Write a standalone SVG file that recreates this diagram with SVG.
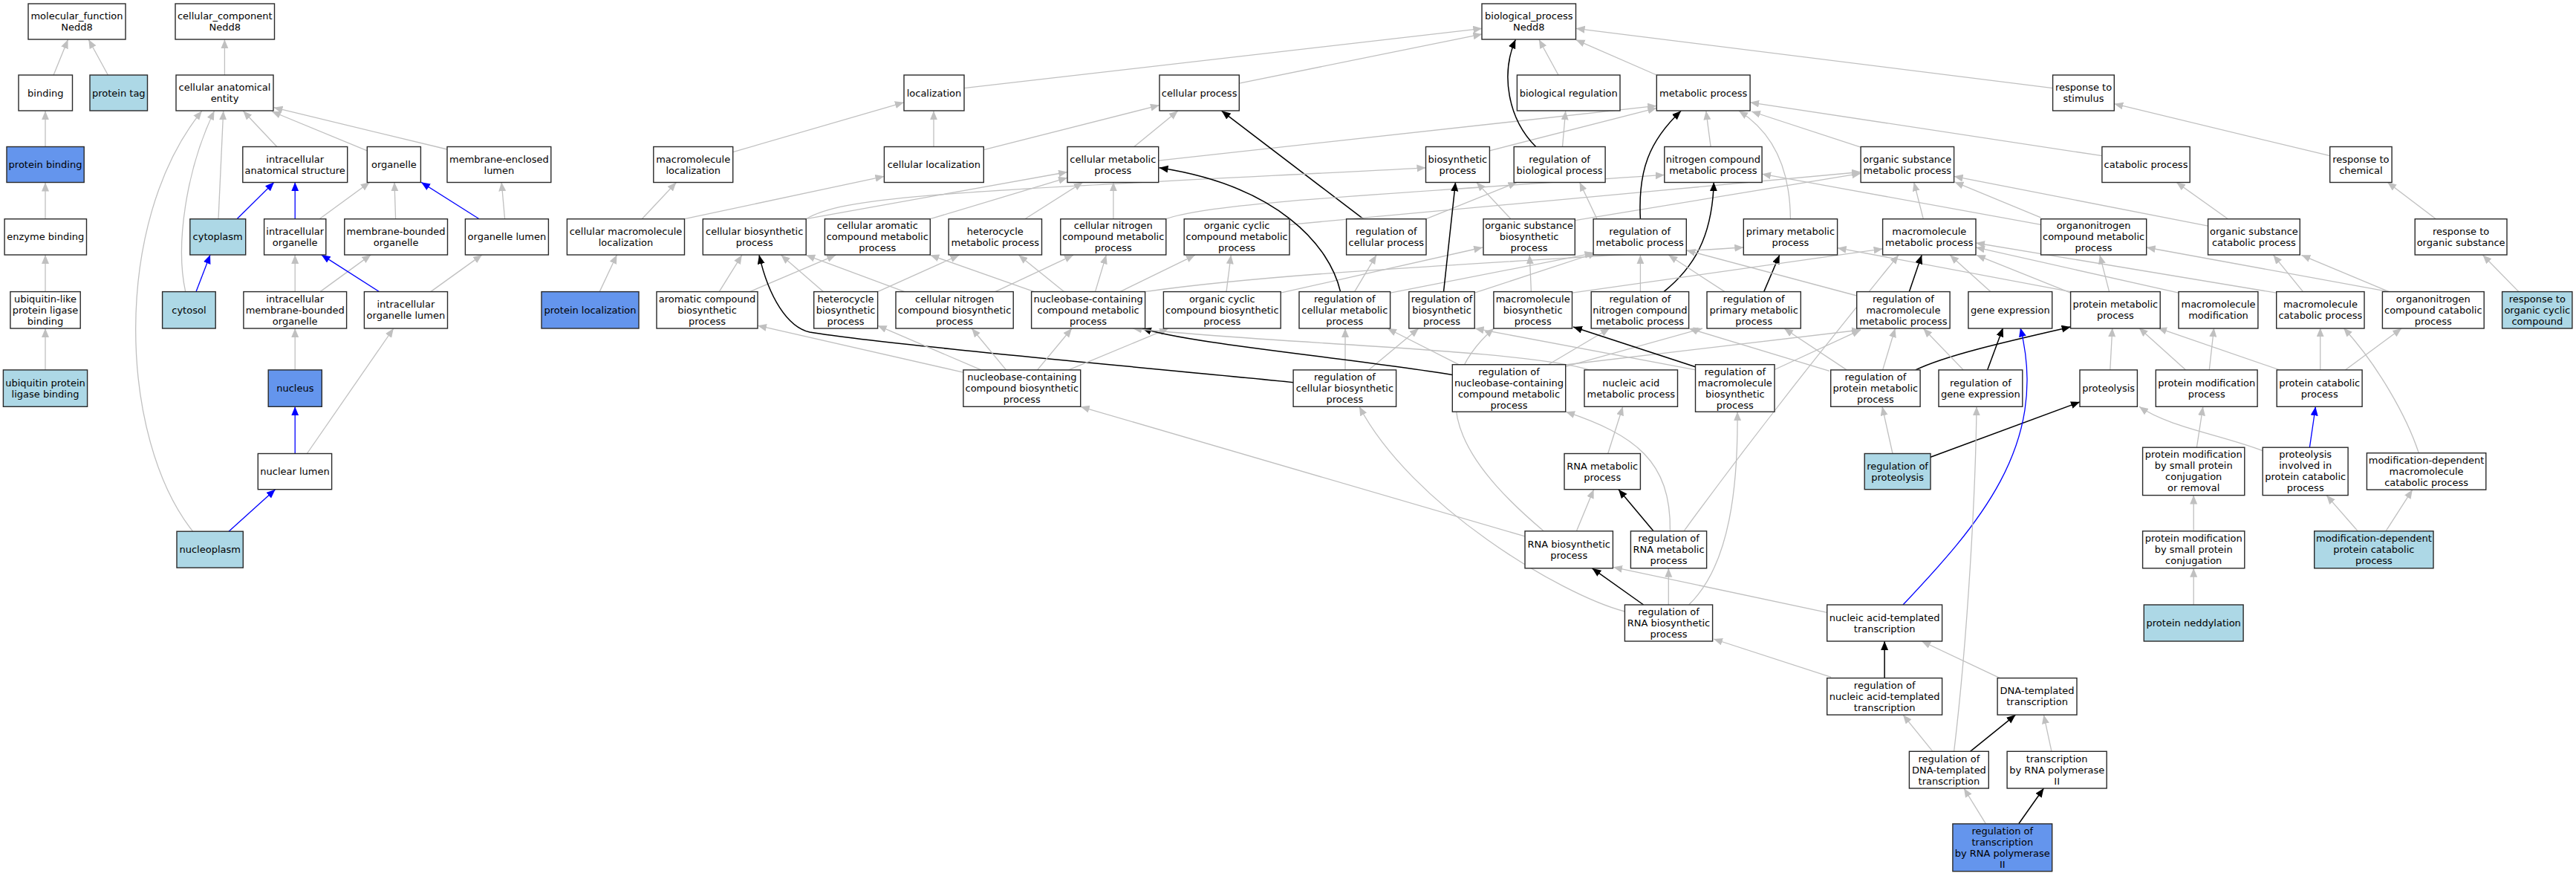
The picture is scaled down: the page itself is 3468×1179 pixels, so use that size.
<svg xmlns="http://www.w3.org/2000/svg" width="3468" height="1179" viewBox="0 0 3468 1179">
<style>
.n rect{fill:#fff;stroke:#2a2a2a;stroke-width:1.4}
.lb rect{fill:#add8e6}
.cb rect{fill:#6495ed}
.n text{font-family:"DejaVu Sans","Liberation Sans",sans-serif;font-size:13px;text-anchor:middle;fill:#000}
.e path{fill:none}
.g{stroke:#c0c0c0;stroke-width:1.3;marker-end:url(#ag)}
.k{stroke:#000;stroke-width:1.5;marker-end:url(#ak)}
.b{stroke:#0000ff;stroke-width:1.3;marker-end:url(#ab)}
</style>
<defs>
<marker id="ag" markerUnits="userSpaceOnUse" markerWidth="13" markerHeight="11" refX="12" refY="5" orient="auto"><path d="M0,0 L12,5 L0,10 z" fill="#c0c0c0"/></marker>
<marker id="ak" markerUnits="userSpaceOnUse" markerWidth="13" markerHeight="11" refX="12" refY="5" orient="auto"><path d="M0,0 L12,5 L0,10 z" fill="#000"/></marker>
<marker id="ab" markerUnits="userSpaceOnUse" markerWidth="13" markerHeight="11" refX="12" refY="5" orient="auto"><path d="M0,0 L12,5 L0,10 z" fill="#0000ff"/></marker>
</defs>
<rect width="3468" height="1179" fill="#fff"/>
<g id="edges" class="e">
<path class="g" d="M72.1,101 L91.5,53.2"/>
<path class="g" d="M145.4,101 L119.3,53.2"/>
<path class="g" d="M302.4,101 L302.4,53.2"/>
<path class="g" d="M61,197.5 L61,149.3"/>
<path class="g" d="M61,294.7 L61,245.5"/>
<path class="g" d="M61,392.6 L61,343"/>
<path class="g" d="M61,497.9 L61,442"/>
<path class="g" d="M372.8,197.5 L327.3,149.3"/>
<path class="g" d="M494.3,202.8 L366,150"/>
<path class="g" d="M602,201 L368.5,144.7"/>
<path class="g" d="M294,294.7 L300.7,149.3"/>
<path class="g" d="M249.7,392.6 C236,330 250,230 288.5,149.3"/>
<path class="g" d="M259.6,715.2 C160,590 150,300 271.8,149.3"/>
<path class="b" d="M319,294.7 L369,245.3"/>
<path class="b" d="M397.2,294.7 L397.2,245.3"/>
<path class="g" d="M430,294.7 L497.7,245.3"/>
<path class="g" d="M532.6,294.7 L531,245.3"/>
<path class="b" d="M645.2,294.7 L567,245.3"/>
<path class="g" d="M679.6,294.7 L675.2,245.3"/>
<path class="b" d="M264,392.6 L283,342.9"/>
<path class="g" d="M397.2,392.6 L397.2,342.9"/>
<path class="g" d="M431,392.6 L499.3,342.9"/>
<path class="b" d="M510.4,392.6 L432.7,342.9"/>
<path class="g" d="M579.8,392.6 L649,342.9"/>
<path class="g" d="M397.2,497.9 L397.2,442"/>
<path class="b" d="M397.2,610.5 L397.2,547.3"/>
<path class="g" d="M413.3,610.5 L529.8,442"/>
<path class="b" d="M308,715.2 L370.6,658.7"/>
<path class="g" d="M807.2,392.6 L830.5,343"/>
<path class="g" d="M864.2,294.7 L910.5,245.5"/>
<path class="g" d="M921.5,294.7 L1190.4,237.3"/>
<path class="g" d="M986.7,204.7 L1216.9,137.8"/>
<path class="g" d="M1257,197.5 L1257,149.3"/>
<path class="g" d="M1297.7,118.6 L1995.3,38.3"/>
<path class="g" d="M1324.3,201.7 L1560.9,141.6"/>
<path class="g" d="M1668.3,112.1 L1995.3,45.9"/>
<path class="g" d="M1526.8,197.5 L1585.8,149.3"/>
<path class="g" d="M1559.7,216.2 L2230.3,142.4"/>
<path class="k" d="M1835.4,294.7 L1644.7,149.3"/>
<path class="g" d="M1920,294.7 L2042.4,245.3"/>
<path class="g" d="M2005.4,202.8 L2230.3,145.4"/>
<path class="g" d="M1085.2,294.7 C1140,262 1300,258 1919.5,225.8"/>
<path class="g" d="M1085.2,294.7 L1437,231.5"/>
<path class="g" d="M1252.3,294.7 L1437,239.2"/>
<path class="g" d="M1379.8,294.7 L1457.7,245.3"/>
<path class="g" d="M1498.9,294.7 L1498.9,245.3"/>
<path class="g" d="M1569.8,294.7 C1620,275 1800,265 2240.8,235.4"/>
<path class="g" d="M1736,302.3 L2505.1,231.5"/>
<path class="g" d="M2120.3,296.6 L2505.1,233.4"/>
<path class="g" d="M2150,294.7 L2126.6,245.3"/>
<path class="k" d="M2067.7,197.5 C2030,160 2020,100 2040.3,53.2"/>
<path class="g" d="M2103.5,197.5 L2107.7,149.3"/>
<path class="g" d="M2098,101 L2071.9,53.2"/>
<path class="g" d="M2230.3,101 L2121.6,53.6"/>
<path class="g" d="M2763.6,118.6 L2121.6,38.3"/>
<path class="g" d="M2303.1,197.5 L2296.8,149.3"/>
<path class="k" d="M2208.4,294.7 C2205,230 2220,190 2263.1,149.3"/>
<path class="g" d="M2410.4,294.7 C2410,230 2390,180 2341,149.3"/>
<path class="g" d="M2505.1,198.2 L2358,150"/>
<path class="g" d="M2829.9,209.7 L2356.1,137.8"/>
<path class="g" d="M2747.6,302.3 L2372.1,234.2"/>
<path class="g" d="M2747.6,292.8 L2631.4,244.9"/>
<path class="g" d="M2972.6,304.2 L2630.6,237.3"/>
<path class="g" d="M2589.3,294.7 L2576.7,245.3"/>
<path class="k" d="M2240,392.6 C2280,360 2305,320 2307.3,245.3"/>
<path class="g" d="M2208.4,392.6 L2208.4,343.3"/>
<path class="g" d="M2322,392.6 L2246.3,343.3"/>
<path class="k" d="M2374.7,392.6 L2395.7,343.3"/>
<path class="g" d="M1541.6,392.6 C1700,370 1900,360 2347.3,333"/>
<path class="g" d="M2499.7,398 L2270.3,336.8"/>
<path class="g" d="M2116.5,394.2 L2534.6,334.9"/>
<path class="g" d="M2679.8,392.6 L2625.1,343.3"/>
<path class="g" d="M2787.6,394.2 L2660.9,343.3"/>
<path class="g" d="M2787.6,392.6 L2473.6,333.7"/>
<path class="g" d="M2933,394.2 L2660,332.9"/>
<path class="g" d="M3064.7,394.2 L2660,327"/>
<path class="k" d="M2570.4,392.6 L2587.2,343.3"/>
<path class="g" d="M2839.6,392.6 L2826.9,343.3"/>
<path class="g" d="M3216.3,392.6 L2889.7,333"/>
<path class="g" d="M3216.3,392.6 L3098.4,343.3"/>
<path class="g" d="M3100.5,392.6 L3060.5,343.3"/>
<path class="g" d="M2999.5,294.7 L2930,245.3"/>
<path class="g" d="M3136.7,209.7 L2846.3,139.7"/>
<path class="g" d="M3279.4,294.7 L3214.2,245.3"/>
<path class="g" d="M3390.9,392.6 L3342.5,343.3"/>
<path class="g" d="M968.2,392.6 L998.9,343.3"/>
<path class="g" d="M1009.4,392.6 L1125.2,343.3"/>
<path class="g" d="M1108.3,392.6 L1051.5,343.3"/>
<path class="g" d="M1181.6,392.6 L1291.4,343.3"/>
<path class="g" d="M1217.8,392.6 L1085.2,343.3"/>
<path class="g" d="M1339.8,392.6 L1445,343.3"/>
<path class="g" d="M1392.4,392.6 L1252.3,343.3"/>
<path class="g" d="M1432.4,392.6 L1371.4,343.3"/>
<path class="g" d="M1474.5,392.6 L1489.3,343.3"/>
<path class="g" d="M1508,392.6 L1608.9,343.3"/>
<path class="g" d="M1651,392.6 L1657.3,343.3"/>
<path class="g" d="M1724.2,394.2 L1996.1,333"/>
<path class="k" d="M1804.6,392.6 C1790,330 1720,250 1560.5,225.8"/>
<path class="g" d="M1823.6,392.6 L1853,343.3"/>
<path class="g" d="M1872,394.2 L2145.5,340.6"/>
<path class="k" d="M1943.5,392.6 L1959.5,245.3"/>
<path class="g" d="M1985.2,394.2 L2150,340"/>
<path class="g" d="M2061.4,392.6 L2059.3,343.3"/>
<path class="g" d="M2034,294.7 L1987.7,245.3"/>
<path class="k" d="M1741.1,514.7 C1600,500 1200,465 1090,447 C1060,440 1035,400 1022,343.3"/>
<path class="g" d="M1811,497.9 L1811,442"/>
<path class="g" d="M1842.5,497.9 L1909.9,442"/>
<path class="g" d="M1297.7,501.3 L1020,438.2"/>
<path class="g" d="M1320.9,497.9 L1181.6,438.2"/>
<path class="g" d="M1354.5,497.9 L1308.3,442"/>
<path class="g" d="M1396.6,497.9 L1443,442"/>
<path class="g" d="M1438.7,497.9 L1573.1,442"/>
<path class="k" d="M1955.3,504.4 C1800,480 1600,462 1538,442"/>
<path class="g" d="M1963.8,490.7 L1867.9,442"/>
<path class="g" d="M2084.4,490.7 L2166.9,442"/>
<path class="g" d="M2107.7,493.3 L2292,442"/>
<path class="g" d="M2107.7,491 L2505,444"/>
<path class="g" d="M2140,497.9 C2050,470 1700,462 1525,442"/>
<path class="k" d="M2282.5,493.7 L2118,440"/>
<path class="g" d="M2283,497.9 L1985.6,442"/>
<path class="g" d="M2389,497.5 L2505.1,443.9"/>
<path class="g" d="M2486.2,497.9 L2402,442"/>
<path class="g" d="M2463,499.4 L2273.6,442"/>
<path class="g" d="M2534.6,497.9 L2551.4,442"/>
<path class="k" d="M2578.8,497.9 C2620,478 2700,460 2787.6,440"/>
<path class="g" d="M2643.2,497.9 L2589.3,442"/>
<path class="k" d="M2675.6,497.9 L2696.6,441.3"/>
<path class="g" d="M2840.8,497.9 L2843.8,441.3"/>
<path class="g" d="M2942.7,497.9 L2879.6,441.3"/>
<path class="g" d="M3069,497.9 L2905,441.3"/>
<path class="g" d="M2974.3,497.9 L2980.6,441.3"/>
<path class="g" d="M3123.7,497.9 L3123.7,441.3"/>
<path class="g" d="M3157.3,497.9 L3233.1,442"/>
<path class="g" d="M3256.3,609.7 C3240,560 3200,490 3155,441.3"/>
<path class="g" d="M2548,610.5 L2534,547.3"/>
<path class="k" d="M2599,615.3 L2800,541"/>
<path class="g" d="M2164.7,610.5 L2184.8,547.3"/>
<path class="b" d="M2562,814 C2660,710 2760,600 2720,441.3"/>
<path class="k" d="M2226,714.8 L2179,658.7"/>
<path class="g" d="M2122.4,714.8 L2145.6,658.7"/>
<path class="g" d="M2053,721.9 L1454.7,547.3"/>
<path class="g" d="M2078.2,714.8 C1990,640 1900,540 2011,442"/>
<path class="g" d="M2187.4,823 C2100,800 1900,680 1830,547.3"/>
<path class="k" d="M2212.6,814 L2143.5,764.8"/>
<path class="g" d="M2246.3,814 L2246.3,764.8"/>
<path class="g" d="M2273.6,814 C2330,760 2340,650 2339,554.2"/>
<path class="g" d="M2248.4,714.8 C2250,620 2200,585 2108,554.2"/>
<path class="g" d="M2267,714.8 C2380,560 2470,450 2556,343.3"/>
<path class="g" d="M2459.7,824.3 L2172,763.3"/>
<path class="g" d="M2465.2,911.4 L2307,860"/>
<path class="k" d="M2537.1,912.6 L2537.1,863"/>
<path class="g" d="M2692.4,912.6 L2587.2,863"/>
<path class="g" d="M2602,1011.3 L2562,962.1"/>
<path class="k" d="M2652.5,1011.3 L2713.5,962.1"/>
<path class="g" d="M2630.6,1011.3 C2650,850 2660,650 2661,547.3"/>
<path class="g" d="M2762,1011.3 L2751.4,962.1"/>
<path class="g" d="M2673.5,1108.8 L2644,1061"/>
<path class="k" d="M2717.7,1108.8 L2751.4,1061"/>
<path class="g" d="M2957.4,602.2 L2965.8,547.3"/>
<path class="g" d="M3046.2,606.6 C2990,585 2920,575 2880,547.3"/>
<path class="b" d="M3109.4,602.2 L3117.4,547.3"/>
<path class="g" d="M2953.2,714.8 L2953.2,666.6"/>
<path class="g" d="M2953.2,814 L2953.2,764.8"/>
<path class="g" d="M3174.2,714.8 L3132.1,666.6"/>
<path class="g" d="M3212,714.8 L3247.8,659.1"/>
</g>
<g id="mf" class="n"><rect x="38" y="5" width="131" height="48"/><text><tspan x="103.5" y="26">molecular_function</tspan><tspan x="103.5" y="41">Nedd8</tspan></text></g>
<g id="cc" class="n"><rect x="236" y="5" width="133.5" height="48"/><text><tspan x="302.7" y="26">cellular_component</tspan><tspan x="302.7" y="41">Nedd8</tspan></text></g>
<g id="bp" class="n"><rect x="1995" y="5" width="126.5" height="48"/><text><tspan x="2058.3" y="26">biological_process</tspan><tspan x="2058.3" y="41">Nedd8</tspan></text></g>
<g id="binding" class="n"><rect x="25" y="101" width="72.5" height="48"/><text><tspan x="61.3" y="129.5">binding</tspan></text></g>
<g id="proteintag" class="n lb"><rect x="121" y="101" width="77.5" height="48"/><text><tspan x="159.8" y="129.5">protein tag</tspan></text></g>
<g id="cae" class="n"><rect x="237" y="101" width="131" height="48"/><text><tspan x="302.5" y="122">cellular anatomical</tspan><tspan x="302.5" y="137">entity</tspan></text></g>
<g id="localization" class="n"><rect x="1217" y="101" width="81" height="48"/><text><tspan x="1257.5" y="129.5">localization</tspan></text></g>
<g id="cellproc" class="n"><rect x="1561" y="101" width="107.3" height="48"/><text><tspan x="1614.6" y="129.5">cellular process</tspan></text></g>
<g id="bioreg" class="n"><rect x="2042.4" y="101" width="138.6" height="48"/><text><tspan x="2111.7" y="129.5">biological regulation</tspan></text></g>
<g id="metproc" class="n"><rect x="2230.3" y="101" width="125.8" height="48"/><text><tspan x="2293.2" y="129.5">metabolic process</tspan></text></g>
<g id="respstim" class="n"><rect x="2763.6" y="101" width="82.7" height="48"/><text><tspan x="2805" y="122">response to</tspan><tspan x="2805" y="137">stimulus</tspan></text></g>
<g id="protbind" class="n cb"><rect x="9" y="197.5" width="104.2" height="48"/><text><tspan x="61" y="226">protein binding</tspan></text></g>
<g id="ias" class="n"><rect x="326.8" y="197.5" width="140.9" height="48"/><text><tspan x="397.2" y="218.5">intracellular</tspan><tspan x="397.2" y="233.5">anatomical structure</tspan></text></g>
<g id="organelle" class="n"><rect x="494.3" y="197.5" width="72.1" height="48"/><text><tspan x="530.4" y="226">organelle</tspan></text></g>
<g id="mel" class="n"><rect x="602" y="197.5" width="139.8" height="48"/><text><tspan x="671.9" y="218.5">membrane-enclosed</tspan><tspan x="671.9" y="233.5">lumen</tspan></text></g>
<g id="macloc" class="n"><rect x="879.8" y="197.5" width="106.9" height="48"/><text><tspan x="933.2" y="218.5">macromolecule</tspan><tspan x="933.2" y="233.5">localization</tspan></text></g>
<g id="cellloc" class="n"><rect x="1190.4" y="197.5" width="133.9" height="48"/><text><tspan x="1257.3" y="226">cellular localization</tspan></text></g>
<g id="cmp" class="n"><rect x="1437" y="197.5" width="122.7" height="48"/><text><tspan x="1498.3" y="218.5">cellular metabolic</tspan><tspan x="1498.3" y="233.5">process</tspan></text></g>
<g id="biosyn" class="n"><rect x="1919.5" y="197.5" width="85.9" height="48"/><text><tspan x="1962.4" y="218.5">biosynthetic</tspan><tspan x="1962.4" y="233.5">process</tspan></text></g>
<g id="rbp" class="n"><rect x="2038.2" y="197.5" width="122.9" height="48"/><text><tspan x="2099.6" y="218.5">regulation of</tspan><tspan x="2099.6" y="233.5">biological process</tspan></text></g>
<g id="ncmp" class="n"><rect x="2240.8" y="197.5" width="131.3" height="48"/><text><tspan x="2306.4" y="218.5">nitrogen compound</tspan><tspan x="2306.4" y="233.5">metabolic process</tspan></text></g>
<g id="osmp" class="n"><rect x="2505.1" y="197.5" width="125.5" height="48"/><text><tspan x="2567.8" y="218.5">organic substance</tspan><tspan x="2567.8" y="233.5">metabolic process</tspan></text></g>
<g id="catab" class="n"><rect x="2829.9" y="197.5" width="118.3" height="48"/><text><tspan x="2889" y="226">catabolic process</tspan></text></g>
<g id="respchem" class="n"><rect x="3136.7" y="197.5" width="83.4" height="48"/><text><tspan x="3178.4" y="218.5">response to</tspan><tspan x="3178.4" y="233.5">chemical</tspan></text></g>
<g id="enzbind" class="n"><rect x="6.1" y="294.7" width="110.4" height="48.3"/><text><tspan x="61.3" y="323.3">enzyme binding</tspan></text></g>
<g id="cytoplasm" class="n lb"><rect x="255.8" y="294.7" width="74.9" height="48.3"/><text><tspan x="293.2" y="323.3">cytoplasm</tspan></text></g>
<g id="io" class="n"><rect x="355.6" y="294.7" width="83.2" height="48.3"/><text><tspan x="397.2" y="315.8">intracellular</tspan><tspan x="397.2" y="330.8">organelle</tspan></text></g>
<g id="mbo" class="n"><rect x="463.8" y="294.7" width="138.7" height="48.3"/><text><tspan x="533.1" y="315.8">membrane-bounded</tspan><tspan x="533.1" y="330.8">organelle</tspan></text></g>
<g id="ol" class="n"><rect x="626.4" y="294.7" width="112" height="48.3"/><text><tspan x="682.4" y="323.3">organelle lumen</tspan></text></g>
<g id="cml" class="n"><rect x="763.4" y="294.7" width="158.1" height="48.3"/><text><tspan x="842.5" y="315.8">cellular macromolecule</tspan><tspan x="842.5" y="330.8">localization</tspan></text></g>
<g id="cbp" class="n"><rect x="946.3" y="294.7" width="138.9" height="48.3"/><text><tspan x="1015.7" y="315.8">cellular biosynthetic</tspan><tspan x="1015.7" y="330.8">process</tspan></text></g>
<g id="cacmp" class="n"><rect x="1110.4" y="294.7" width="141.9" height="48.3"/><text><tspan x="1181.3" y="308.3">cellular aromatic</tspan><tspan x="1181.3" y="323.3">compound metabolic</tspan><tspan x="1181.3" y="338.3">process</tspan></text></g>
<g id="hmp" class="n"><rect x="1277.1" y="294.7" width="125.4" height="48.3"/><text><tspan x="1339.8" y="315.8">heterocycle</tspan><tspan x="1339.8" y="330.8">metabolic process</tspan></text></g>
<g id="cncmp" class="n"><rect x="1427.8" y="294.7" width="142" height="48.3"/><text><tspan x="1498.8" y="308.3">cellular nitrogen</tspan><tspan x="1498.8" y="323.3">compound metabolic</tspan><tspan x="1498.8" y="338.3">process</tspan></text></g>
<g id="occmp" class="n"><rect x="1594.2" y="294.7" width="141.8" height="48.3"/><text><tspan x="1665.1" y="308.3">organic cyclic</tspan><tspan x="1665.1" y="323.3">compound metabolic</tspan><tspan x="1665.1" y="338.3">process</tspan></text></g>
<g id="rcp" class="n"><rect x="1812.6" y="294.7" width="107.4" height="48.3"/><text><tspan x="1866.3" y="315.8">regulation of</tspan><tspan x="1866.3" y="330.8">cellular process</tspan></text></g>
<g id="osbp" class="n"><rect x="1997" y="294.7" width="123.3" height="48.3"/><text><tspan x="2058.6" y="308.3">organic substance</tspan><tspan x="2058.6" y="323.3">biosynthetic</tspan><tspan x="2058.6" y="338.3">process</tspan></text></g>
<g id="rmp" class="n"><rect x="2145.1" y="294.7" width="125.2" height="48.3"/><text><tspan x="2207.7" y="315.8">regulation of</tspan><tspan x="2207.7" y="330.8">metabolic process</tspan></text></g>
<g id="pmp" class="n"><rect x="2347.3" y="294.7" width="126.3" height="48.3"/><text><tspan x="2410.4" y="315.8">primary metabolic</tspan><tspan x="2410.4" y="330.8">process</tspan></text></g>
<g id="mmp" class="n"><rect x="2534.6" y="294.7" width="125.4" height="48.3"/><text><tspan x="2597.3" y="315.8">macromolecule</tspan><tspan x="2597.3" y="330.8">metabolic process</tspan></text></g>
<g id="oncmp" class="n"><rect x="2747.6" y="294.7" width="142.1" height="48.3"/><text><tspan x="2818.6" y="308.3">organonitrogen</tspan><tspan x="2818.6" y="323.3">compound metabolic</tspan><tspan x="2818.6" y="338.3">process</tspan></text></g>
<g id="oscp" class="n"><rect x="2972.6" y="294.7" width="123.7" height="48.3"/><text><tspan x="3034.4" y="315.8">organic substance</tspan><tspan x="3034.4" y="330.8">catabolic process</tspan></text></g>
<g id="ros" class="n"><rect x="3251.2" y="294.7" width="123.8" height="48.3"/><text><tspan x="3313.1" y="315.8">response to</tspan><tspan x="3313.1" y="330.8">organic substance</tspan></text></g>
<g id="ulplb" class="n"><rect x="13.9" y="392.6" width="94.3" height="49.4"/><text><tspan x="61" y="406.8">ubiquitin-like</tspan><tspan x="61" y="421.8">protein ligase</tspan><tspan x="61" y="436.8">binding</tspan></text></g>
<g id="cytosol" class="n lb"><rect x="218.6" y="392.6" width="71.6" height="49.4"/><text><tspan x="254.4" y="421.8">cytosol</tspan></text></g>
<g id="imbo" class="n"><rect x="327.9" y="392.6" width="138.7" height="49.4"/><text><tspan x="397.2" y="406.8">intracellular</tspan><tspan x="397.2" y="421.8">membrane-bounded</tspan><tspan x="397.2" y="436.8">organelle</tspan></text></g>
<g id="iol" class="n"><rect x="490.4" y="392.6" width="112.1" height="49.4"/><text><tspan x="546.4" y="414.3">intracellular</tspan><tspan x="546.4" y="429.3">organelle lumen</tspan></text></g>
<g id="protloc" class="n cb"><rect x="729" y="392.6" width="131" height="49.4"/><text><tspan x="794.5" y="421.8">protein localization</tspan></text></g>
<g id="acbp" class="n"><rect x="884" y="392.6" width="136" height="49.4"/><text><tspan x="952" y="406.8">aromatic compound</tspan><tspan x="952" y="421.8">biosynthetic</tspan><tspan x="952" y="436.8">process</tspan></text></g>
<g id="hbp" class="n"><rect x="1095.7" y="392.6" width="85.9" height="49.4"/><text><tspan x="1138.6" y="406.8">heterocycle</tspan><tspan x="1138.6" y="421.8">biosynthetic</tspan><tspan x="1138.6" y="436.8">process</tspan></text></g>
<g id="cncbp" class="n"><rect x="1206" y="392.6" width="158.2" height="49.4"/><text><tspan x="1285.1" y="406.8">cellular nitrogen</tspan><tspan x="1285.1" y="421.8">compound biosynthetic</tspan><tspan x="1285.1" y="436.8">process</tspan></text></g>
<g id="nccmp" class="n"><rect x="1388.6" y="392.6" width="153" height="49.4"/><text><tspan x="1465.1" y="406.8">nucleobase-containing</tspan><tspan x="1465.1" y="421.8">compound metabolic</tspan><tspan x="1465.1" y="436.8">process</tspan></text></g>
<g id="occbp" class="n"><rect x="1566.4" y="392.6" width="157.8" height="49.4"/><text><tspan x="1645.3" y="406.8">organic cyclic</tspan><tspan x="1645.3" y="421.8">compound biosynthetic</tspan><tspan x="1645.3" y="436.8">process</tspan></text></g>
<g id="rcmp" class="n"><rect x="1749" y="392.6" width="122.6" height="49.4"/><text><tspan x="1810.3" y="406.8">regulation of</tspan><tspan x="1810.3" y="421.8">cellular metabolic</tspan><tspan x="1810.3" y="436.8">process</tspan></text></g>
<g id="rbsp" class="n"><rect x="1896.8" y="392.6" width="88.4" height="49.4"/><text><tspan x="1941" y="406.8">regulation of</tspan><tspan x="1941" y="421.8">biosynthetic</tspan><tspan x="1941" y="436.8">process</tspan></text></g>
<g id="mbp" class="n"><rect x="2010.9" y="392.6" width="105.6" height="49.4"/><text><tspan x="2063.7" y="406.8">macromolecule</tspan><tspan x="2063.7" y="421.8">biosynthetic</tspan><tspan x="2063.7" y="436.8">process</tspan></text></g>
<g id="rncmp" class="n"><rect x="2142.2" y="392.6" width="131.4" height="49.4"/><text><tspan x="2207.9" y="406.8">regulation of</tspan><tspan x="2207.9" y="421.8">nitrogen compound</tspan><tspan x="2207.9" y="436.8">metabolic process</tspan></text></g>
<g id="rpmp" class="n"><rect x="2298" y="392.6" width="126.3" height="49.4"/><text><tspan x="2361.2" y="406.8">regulation of</tspan><tspan x="2361.2" y="421.8">primary metabolic</tspan><tspan x="2361.2" y="436.8">process</tspan></text></g>
<g id="rmmp" class="n"><rect x="2499.7" y="392.6" width="125.4" height="49.4"/><text><tspan x="2562.4" y="406.8">regulation of</tspan><tspan x="2562.4" y="421.8">macromolecule</tspan><tspan x="2562.4" y="436.8">metabolic process</tspan></text></g>
<g id="geneexp" class="n"><rect x="2649.9" y="392.6" width="112.8" height="49.4"/><text><tspan x="2706.3" y="421.8">gene expression</tspan></text></g>
<g id="protmp" class="n"><rect x="2787.6" y="392.6" width="120.6" height="49.4"/><text><tspan x="2847.9" y="414.3">protein metabolic</tspan><tspan x="2847.9" y="429.3">process</tspan></text></g>
<g id="macmod" class="n"><rect x="2933" y="392.6" width="106.9" height="49.4"/><text><tspan x="2986.5" y="414.3">macromolecule</tspan><tspan x="2986.5" y="429.3">modification</tspan></text></g>
<g id="mcp" class="n"><rect x="3064.7" y="392.6" width="118.3" height="49.4"/><text><tspan x="3123.9" y="414.3">macromolecule</tspan><tspan x="3123.9" y="429.3">catabolic process</tspan></text></g>
<g id="onccp" class="n"><rect x="3207.4" y="392.6" width="136.8" height="49.4"/><text><tspan x="3275.8" y="406.8">organonitrogen</tspan><tspan x="3275.8" y="421.8">compound catabolic</tspan><tspan x="3275.8" y="436.8">process</tspan></text></g>
<g id="roccc" class="n lb"><rect x="3368.6" y="392.6" width="94.3" height="49.4"/><text><tspan x="3415.8" y="406.8">response to</tspan><tspan x="3415.8" y="421.8">organic cyclic</tspan><tspan x="3415.8" y="436.8">compound</tspan></text></g>
<g id="uplb" class="n lb"><rect x="4.4" y="497.9" width="113.2" height="49.4"/><text><tspan x="61" y="519.6">ubiquitin protein</tspan><tspan x="61" y="534.6">ligase binding</tspan></text></g>
<g id="nucleus" class="n cb"><rect x="361.2" y="497.9" width="72.1" height="49.4"/><text><tspan x="397.3" y="527.1">nucleus</tspan></text></g>
<g id="nccbp" class="n"><rect x="1296.9" y="497.9" width="157.8" height="49.4"/><text><tspan x="1375.8" y="512.1">nucleobase-containing</tspan><tspan x="1375.8" y="527.1">compound biosynthetic</tspan><tspan x="1375.8" y="542.1">process</tspan></text></g>
<g id="rcbp" class="n"><rect x="1741.1" y="497.9" width="138.5" height="49.4"/><text><tspan x="1810.4" y="512.1">regulation of</tspan><tspan x="1810.4" y="527.1">cellular biosynthetic</tspan><tspan x="1810.4" y="542.1">process</tspan></text></g>
<g id="rnccmp" class="n"><rect x="1955.3" y="490.7" width="152.4" height="63.5"/><text><tspan x="2031.5" y="504.5">regulation of</tspan><tspan x="2031.5" y="519.5">nucleobase-containing</tspan><tspan x="2031.5" y="534.5">compound metabolic</tspan><tspan x="2031.5" y="549.5">process</tspan></text></g>
<g id="namp" class="n"><rect x="2133" y="497.9" width="125.5" height="49.4"/><text><tspan x="2195.8" y="519.6">nucleic acid</tspan><tspan x="2195.8" y="534.6">metabolic process</tspan></text></g>
<g id="rmbp" class="n"><rect x="2282.5" y="490.7" width="106.5" height="63.5"/><text><tspan x="2335.8" y="504.5">regulation of</tspan><tspan x="2335.8" y="519.5">macromolecule</tspan><tspan x="2335.8" y="534.5">biosynthetic</tspan><tspan x="2335.8" y="549.5">process</tspan></text></g>
<g id="rprotmp" class="n"><rect x="2464.7" y="497.9" width="120.4" height="49.4"/><text><tspan x="2524.9" y="512.1">regulation of</tspan><tspan x="2524.9" y="527.1">protein metabolic</tspan><tspan x="2524.9" y="542.1">process</tspan></text></g>
<g id="rge" class="n"><rect x="2610" y="497.9" width="112.8" height="49.4"/><text><tspan x="2666.4" y="519.6">regulation of</tspan><tspan x="2666.4" y="534.6">gene expression</tspan></text></g>
<g id="proteolysis" class="n"><rect x="2800" y="497.9" width="77.4" height="49.4"/><text><tspan x="2838.7" y="527.1">proteolysis</tspan></text></g>
<g id="pmodp" class="n"><rect x="2902.3" y="497.9" width="136.8" height="49.4"/><text><tspan x="2970.7" y="519.6">protein modification</tspan><tspan x="2970.7" y="534.6">process</tspan></text></g>
<g id="pcp" class="n"><rect x="3065.2" y="497.9" width="114.9" height="49.4"/><text><tspan x="3122.7" y="519.6">protein catabolic</tspan><tspan x="3122.7" y="534.6">process</tspan></text></g>
<g id="nuclumen" class="n"><rect x="347.3" y="610.5" width="99.3" height="48.2"/><text><tspan x="397" y="639.1">nuclear lumen</tspan></text></g>
<g id="rnamp" class="n"><rect x="2106" y="610.5" width="102.4" height="48.2"/><text><tspan x="2157.2" y="631.6">RNA metabolic</tspan><tspan x="2157.2" y="646.6">process</tspan></text></g>
<g id="rproteolysis" class="n lb"><rect x="2510.2" y="610.5" width="88.8" height="48.2"/><text><tspan x="2554.6" y="631.6">regulation of</tspan><tspan x="2554.6" y="646.6">proteolysis</tspan></text></g>
<g id="pmsp_cr" class="n"><rect x="2884.6" y="602.2" width="137.2" height="64.4"/><text><tspan x="2953.2" y="616.4">protein modification</tspan><tspan x="2953.2" y="631.4">by small protein</tspan><tspan x="2953.2" y="646.4">conjugation</tspan><tspan x="2953.2" y="661.4">or removal</tspan></text></g>
<g id="pipcp" class="n"><rect x="3046.2" y="602.2" width="114.9" height="64.4"/><text><tspan x="3103.7" y="616.4">proteolysis</tspan><tspan x="3103.7" y="631.4">involved in</tspan><tspan x="3103.7" y="646.4">protein catabolic</tspan><tspan x="3103.7" y="661.4">process</tspan></text></g>
<g id="mdmcp" class="n"><rect x="3186.4" y="609.7" width="160.4" height="49.4"/><text><tspan x="3266.6" y="623.9">modification-dependent</tspan><tspan x="3266.6" y="638.9">macromolecule</tspan><tspan x="3266.6" y="653.9">catabolic process</tspan></text></g>
<g id="nucleoplasm" class="n lb"><rect x="238" y="715.2" width="89.3" height="48.9"/><text><tspan x="282.7" y="744.3">nucleoplasm</tspan></text></g>
<g id="rnabp" class="n"><rect x="2053" y="714.8" width="118.4" height="50"/><text><tspan x="2112.2" y="736.8">RNA biosynthetic</tspan><tspan x="2112.2" y="751.8">process</tspan></text></g>
<g id="rrnamp" class="n"><rect x="2195.4" y="714.8" width="102.2" height="50"/><text><tspan x="2246.5" y="729.3">regulation of</tspan><tspan x="2246.5" y="744.3">RNA metabolic</tspan><tspan x="2246.5" y="759.3">process</tspan></text></g>
<g id="pmspc" class="n"><rect x="2884.6" y="714.8" width="137.2" height="50"/><text><tspan x="2953.2" y="729.3">protein modification</tspan><tspan x="2953.2" y="744.3">by small protein</tspan><tspan x="2953.2" y="759.3">conjugation</tspan></text></g>
<g id="mdpcp" class="n lb"><rect x="3115.7" y="714.8" width="160.3" height="50"/><text><tspan x="3195.9" y="729.3">modification-dependent</tspan><tspan x="3195.9" y="744.3">protein catabolic</tspan><tspan x="3195.9" y="759.3">process</tspan></text></g>
<g id="rrnabp" class="n"><rect x="2187.4" y="814" width="118.2" height="49"/><text><tspan x="2246.5" y="828">regulation of</tspan><tspan x="2246.5" y="843">RNA biosynthetic</tspan><tspan x="2246.5" y="858">process</tspan></text></g>
<g id="natt" class="n"><rect x="2459.7" y="814" width="154.9" height="49"/><text><tspan x="2537.2" y="835.5">nucleic acid-templated</tspan><tspan x="2537.2" y="850.5">transcription</tspan></text></g>
<g id="neddylation" class="n lb"><rect x="2886.3" y="814" width="133.8" height="49"/><text><tspan x="2953.2" y="843">protein neddylation</tspan></text></g>
<g id="rnatt" class="n"><rect x="2459.7" y="912.6" width="154.9" height="49.5"/><text><tspan x="2537.2" y="926.9">regulation of</tspan><tspan x="2537.2" y="941.9">nucleic acid-templated</tspan><tspan x="2537.2" y="956.9">transcription</tspan></text></g>
<g id="dtt" class="n"><rect x="2689.1" y="912.6" width="106.9" height="49.5"/><text><tspan x="2742.6" y="934.4">DNA-templated</tspan><tspan x="2742.6" y="949.4">transcription</tspan></text></g>
<g id="rdtt" class="n"><rect x="2570.4" y="1011.3" width="106.9" height="49.7"/><text><tspan x="2623.9" y="1025.6">regulation of</tspan><tspan x="2623.9" y="1040.6">DNA-templated</tspan><tspan x="2623.9" y="1055.6">transcription</tspan></text></g>
<g id="trnapol" class="n"><rect x="2702.1" y="1011.3" width="134.1" height="49.7"/><text><tspan x="2769.2" y="1025.6">transcription</tspan><tspan x="2769.2" y="1040.6">by RNA polymerase</tspan><tspan x="2769.2" y="1055.6">II</tspan></text></g>
<g id="rtrnapol" class="n cb"><rect x="2628.9" y="1108.8" width="133.8" height="63.9"/><text><tspan x="2695.8" y="1122.8">regulation of</tspan><tspan x="2695.8" y="1137.8">transcription</tspan><tspan x="2695.8" y="1152.8">by RNA polymerase</tspan><tspan x="2695.8" y="1167.8">II</tspan></text></g>
</svg>
